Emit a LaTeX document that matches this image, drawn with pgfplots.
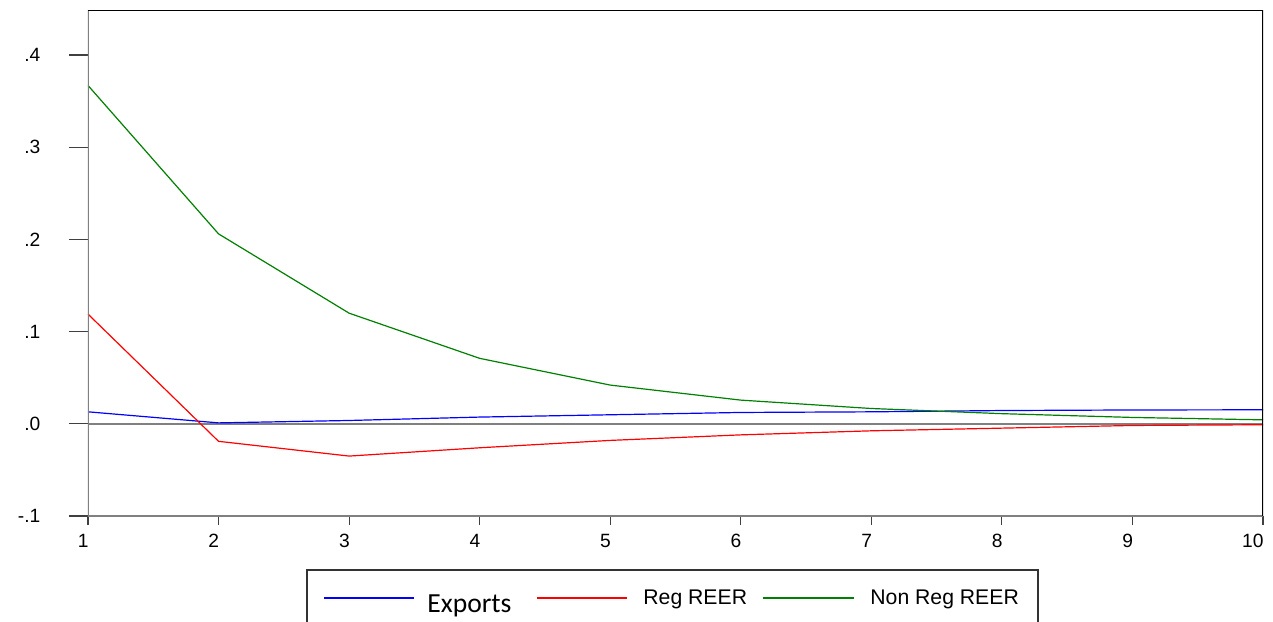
\documentclass[border=0pt]{standalone}
\usepackage{pgfplots}
\pgfplotsset{compat=1.18}
\usepackage{pgfplotstable}
\usepackage{fontspec}
\setmainfont{Liberation Sans}
\newfontfamily\calibri{Carlito}
\definecolor{egreen}{RGB}{0,128,0}
\pgfplotstableread{
x exports reg nonreg
1 0.0130 0.1190 0.3670
2 0.0010 -0.0190 0.2060
3 0.0036 -0.0350 0.1200
4 0.0073 -0.0260 0.0710
5 0.0098 -0.0180 0.0420
6 0.0123 -0.0120 0.0257
7 0.0130 -0.0076 0.0166
8 0.0144 -0.0047 0.0110
9 0.0150 -0.0018 0.0069
10 0.0152 -0.0010 0.0043
}\irf
\begin{document}
\begin{tikzpicture}
\useasboundingbox (-44pt,-52.5pt) rectangle (592.5pt,258pt);
\begin{axis}[
  at={(0pt,0pt)}, anchor=south west,
  scale only axis, width=587.5pt, height=252.75pt,
  xmin=1, xmax=10, ymin=-0.1, ymax=0.4483,
  axis line style={draw=none},
  tick pos=left, tick align=outside,
  major tick length=9.5pt,
  xtick style={/pgfplots/major tick length=4.5pt},
  tick style={black!75, line width=0.6pt},
  xtick={1,2,...,10},
  ytick={-0.1,0,0.1,0.2,0.3,0.4},
  yticklabels={-.1\hspace{3.5pt},.0,.1,.2,.3,.4},
  /pgf/number format/assume math mode=true,
  ticklabel style={font=\fontsize{9.6}{11}\selectfont},
  yticklabel style={anchor=east, xshift=-10.8pt},
  xticklabel style={anchor=north east, inner sep=0pt, xshift=0.5pt, yshift=0.5pt},
]
\draw[gray, line width=0.8pt] (axis cs:1,0) -- (axis cs:10,0);
\addplot[blue, line width=0.6pt] table[x=x, y=exports] {\irf};
\addplot[red, line width=0.6pt] table[x=x, y=reg] {\irf};
\addplot[egreen, line width=0.6pt] table[x=x, y=nonreg] {\irf};
\draw[gray, line width=0.9pt] (rel axis cs:0,1) -- (rel axis cs:0,0) -- (rel axis cs:1,0);
\draw[black, line width=0.6pt] (rel axis cs:0,1) -- (rel axis cs:1,1) -- (rel axis cs:1,0);
\end{axis}
% legend box
\draw[black!80, line width=0.6pt] (109.5pt,-60pt) rectangle (475pt,-27pt);
\draw[blue, line width=0.6pt] (118pt,-41pt) -- (163pt,-41pt);
\draw[red, line width=0.6pt] (224.5pt,-41pt) -- (269.5pt,-41pt);
\draw[egreen, line width=0.6pt] (337.5pt,-41pt) -- (383pt,-41pt);
\node[anchor=base west, inner sep=0pt, font=\calibri\fontsize{13.8}{16}\selectfont] at (169.5pt,-48.3pt) {Exports};
\node[anchor=base west, inner sep=0pt, font=\fontsize{10.6}{12}\selectfont] at (277.5pt,-44.3pt) {Reg REER};
\node[anchor=base west, inner sep=0pt, font=\fontsize{10.6}{12}\selectfont] at (391pt,-44.3pt) {Non Reg REER};
\end{tikzpicture}
\end{document}
